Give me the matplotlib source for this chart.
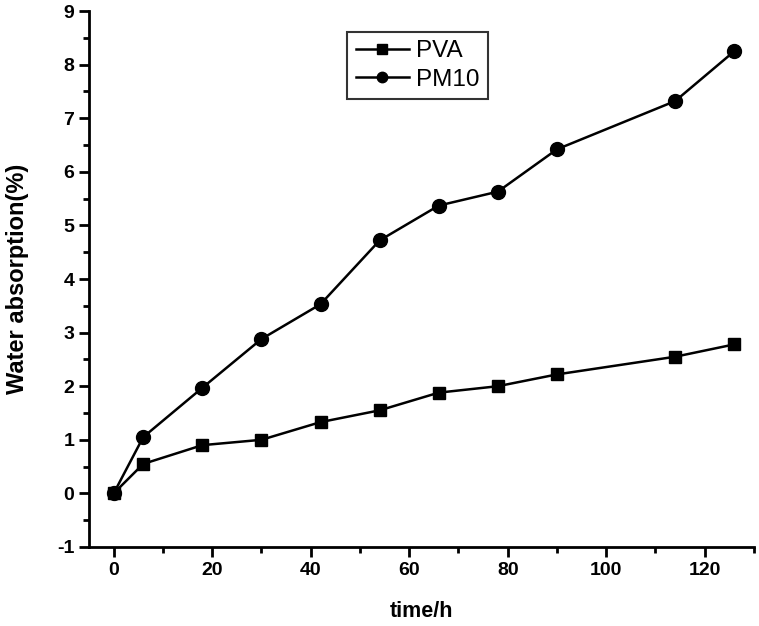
import matplotlib
matplotlib.use('Agg')
import matplotlib.pyplot as plt
from matplotlib.ticker import MultipleLocator

plt.rcParams['font.family'] = ['Liberation Sans', 'DejaVu Sans']
plt.rcParams['axes.unicode_minus'] = False

# time in hours
hours = [0, 6, 18, 30, 42, 54, 66, 78, 90, 114, 126]
# water absorption (%)
pva = [0, 0.55, 0.9, 1.0, 1.33, 1.55, 1.88, 2.0, 2.22, 2.55, 2.78]
pm10 = [0, 1.05, 1.97, 2.88, 3.53, 4.72, 5.37, 5.63, 6.42, 7.32, 8.25]

fig = plt.figure(figsize=(7.59, 6.26), dpi=100)
ax = fig.add_axes([0.1173, 0.1262, 0.8761, 0.8562])

ax.plot(hours, pva, color='black', lw=1.8, marker='s', ms=9, label='PVA')
ax.plot(hours, pm10, color='black', lw=1.8, marker='o', ms=10, label='PM10')

ax.set_xlim(-5, 130)
ax.set_ylim(-1, 9)
ax.xaxis.set_major_locator(MultipleLocator(20))
ax.xaxis.set_minor_locator(MultipleLocator(10))
ax.yaxis.set_major_locator(MultipleLocator(1))
ax.yaxis.set_minor_locator(MultipleLocator(0.5))

for s in ['top', 'right']:
    ax.spines[s].set_visible(False)
for s in ['left', 'bottom']:
    ax.spines[s].set_linewidth(2)

ax.tick_params(which='major', direction='out', length=7, width=2, labelsize=14)
ax.tick_params(which='minor', direction='out', length=4, width=2)
for lab in ax.get_xticklabels() + ax.get_yticklabels():
    lab.set_fontweight('bold')

ax.set_xlabel('time/h', fontsize=15.5, fontweight='bold', labelpad=16)
ax.set_ylabel('Water absorption(%)', fontsize=17, fontweight='bold', labelpad=20)

leg = ax.legend(loc='upper left', bbox_to_anchor=(0.388, 0.961), borderaxespad=0,
                fontsize=17.5, frameon=True, fancybox=False, edgecolor='black',
                handlelength=2.2, handletextpad=0.3, borderpad=0.35,
                labelspacing=0.25, markerscale=0.75)
leg.get_frame().set_linewidth(1.5)

fig.savefig('out.png', dpi=100)
